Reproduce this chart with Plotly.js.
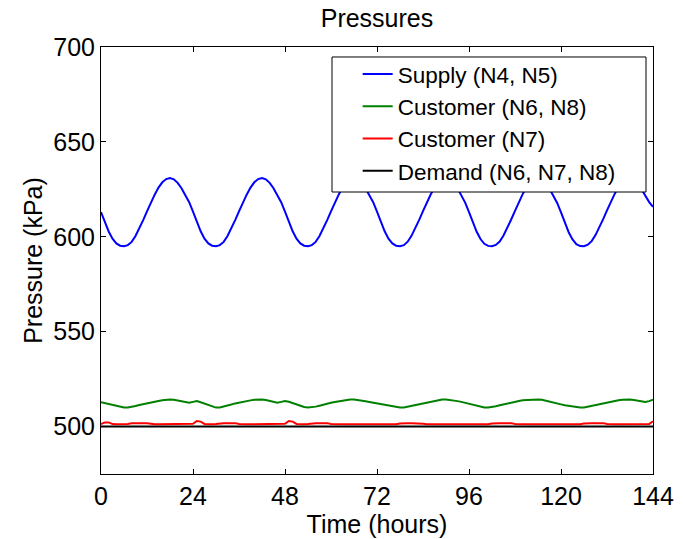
<!DOCTYPE html>
<html>
<head>
<meta charset="utf-8">
<script src="https://cdn.plot.ly/plotly-3.0.1.min.js"></script>
<style>html,body{margin:0;padding:0;background:#fff;}#chart{width:683px;height:539px;}</style>
</head>
<body>
<div id="chart"></div>
<script>
const hours = [
  0,1,2,3,4,5,6,7,8,9,10,11,12,13,14,15,16,17,18,19,20,21,22,23,
  24,25,26,27,28,29,30,31,32,33,34,35,36,37,38,39,40,41,42,43,44,45,46,47,
  48,49,50,51,52,53,54,55,56,57,58,59,60,61,62,63,64,65,66,67,68,69,70,71,
  72,73,74,75,76,77,78,79,80,81,82,83,84,85,86,87,88,89,90,91,92,93,94,95,
  96,97,98,99,100,101,102,103,104,105,106,107,108,109,110,111,112,113,114,115,116,117,118,119,
  120,121,122,123,124,125,126,127,128,129,130,131,132,133,134,135,136,137,138,139,140,141,142,143,
  144
];

const supply = [
  613.0,607.8,602.8,599.0,596.5,595.3,595.0,595.6,597.3,600.4,604.4,608.8,613.4,617.9,622.2,625.9,628.7,630.4,631.0,630.3,628.4,625.6,622.1,618.2,
  613.3,607.9,602.9,599.0,596.5,595.3,595.0,595.6,597.3,600.4,604.4,608.8,613.4,617.9,622.2,625.9,628.7,630.4,631.0,630.3,628.4,625.6,622.1,618.2,
  613.3,607.9,602.9,599.0,596.5,595.3,595.0,595.6,597.3,600.4,604.4,608.8,613.4,617.9,622.2,625.9,628.7,630.4,631.0,630.3,628.4,625.6,622.1,618.2,
  613.3,607.9,602.9,599.0,596.5,595.3,595.0,595.6,597.4,600.5,604.5,608.9,613.5,618.0,622.3,626.0,628.8,630.5,631.0,630.2,628.3,625.5,622.0,618.0,
  613.0,607.6,602.6,598.8,596.3,595.2,595.0,595.7,597.5,600.7,604.7,609.1,613.7,618.2,622.5,626.1,628.9,630.6,631.0,630.2,628.2,625.3,621.8,617.8,
  612.8,607.4,602.4,598.6,596.1,595.1,595.0,595.8,597.7,600.9,604.9,609.3,613.9,618.4,622.6,626.2,629.0,630.6,631.0,630.0,627.9,625.0,621.6,618.3,
  615.8
];

const customerN6N8 = [
  512.8,512.3,511.7,511.1,510.6,510.2,510.0,510.0,510.3,510.8,511.4,511.9,512.3,512.7,513.1,513.5,513.9,514.2,514.3,514.1,513.6,513.1,512.7,512.5,
  513.0,513.4,512.8,512.0,511.2,510.5,510.0,510.1,510.5,511.0,511.6,512.2,512.7,513.1,513.5,513.8,514.1,514.3,514.3,514.0,513.5,513.0,512.6,513.0,
  513.4,513.1,512.4,511.6,510.9,510.3,510.0,510.1,510.5,511.0,511.6,512.1,512.5,512.9,513.3,513.7,514.0,514.3,514.2,514.0,513.7,513.3,512.9,512.5,
  512.1,511.6,511.2,510.8,510.4,510.1,510.0,510.1,510.5,511.0,511.5,512.0,512.4,512.8,513.2,513.6,513.9,514.2,514.3,514.1,513.8,513.4,513.0,512.5,
  512.0,511.5,511.0,510.5,510.1,510.0,510.2,510.7,511.2,511.7,512.2,512.7,513.1,513.5,513.8,514.0,514.2,514.3,514.3,514.1,513.7,513.2,512.7,512.2,
  511.7,511.2,510.8,510.4,510.1,510.0,510.1,510.5,511.0,511.5,512.0,512.5,512.9,513.3,513.6,513.9,514.1,514.3,514.2,514.0,513.6,513.2,512.9,513.4,
  514.2
];

const customerN7 = [
  501.3,502.2,502.2,501.3,501.2,501.2,501.2,501.3,501.7,501.8,501.8,501.8,501.7,501.3,501.2,501.2,501.2,501.2,501.2,501.2,501.2,501.2,501.2,501.2,
  501.5,502.9,502.6,501.4,501.2,501.2,501.3,501.7,501.8,501.8,501.8,501.8,501.4,501.2,501.2,501.2,501.2,501.2,501.2,501.2,501.2,501.2,501.2,501.2,
  501.5,502.9,502.6,501.4,501.2,501.2,501.3,501.7,501.8,501.8,501.8,501.8,501.4,501.2,501.2,501.2,501.2,501.2,501.2,501.2,501.2,501.2,501.2,501.2,
  501.2,501.2,501.2,501.2,501.2,501.2,501.6,501.8,501.8,501.8,501.8,501.8,501.5,501.2,501.2,501.2,501.2,501.2,501.2,501.2,501.2,501.2,501.2,501.2,
  501.2,501.2,501.2,501.2,501.2,501.2,501.6,501.8,501.8,501.8,501.8,501.8,501.4,501.2,501.2,501.2,501.2,501.2,501.2,501.2,501.2,501.2,501.2,501.2,
  501.2,501.2,501.2,501.2,501.2,501.2,501.6,501.8,501.8,501.8,501.8,501.8,501.4,501.2,501.2,501.2,501.2,501.2,501.2,501.2,501.2,501.2,501.2,501.3,
  502.8
];

const demandHours = [0, 144];
const demand = [500, 500];

const xTicks = [0, 24, 48, 72, 96, 120, 144];
const yTicks = [500, 550, 600, 650, 700];

const FONT = 'Liberation Sans, Arial, Helvetica, sans-serif';
const FS = 25;

const traces = [
  {x: hours, y: supply, name: 'Supply (N4, N5)', mode: 'lines', line: {color: '#0000ff', width: 2}},
  {x: hours, y: customerN6N8, name: 'Customer (N6, N8)', mode: 'lines', line: {color: '#008000', width: 2}},
  {x: hours, y: customerN7, name: 'Customer (N7)', mode: 'lines', line: {color: '#ff0000', width: 2}},
  {x: demandHours, y: demand, name: 'Demand (N6, N7, N8)', mode: 'lines', line: {color: '#000000', width: 2}}
];

const layout = {
  width: 683, height: 539,
  margin: {l: 101, r: 30, t: 47, b: 65},
  paper_bgcolor: '#ffffff', plot_bgcolor: '#ffffff',
  font: {family: FONT, color: '#000', size: FS},
  title: {text: 'Pressures', font: {family: FONT, size: FS, color: '#000'}, x: 0.5, xref: 'paper', y: 0.966, yref: 'container', yanchor: 'middle'},
  xaxis: {
    range: [0, 144], tickvals: xTicks, ticktext: xTicks.map(String),
    ticks: 'inside', ticklen: 5, tickcolor: '#000', mirror: 'allticks',
    showline: true, linecolor: '#000', linewidth: 1, showgrid: false, zeroline: false,
    tickfont: {family: FONT, size: FS, color: '#000'},
    title: {text: 'Time (hours)', font: {family: FONT, size: FS, color: '#000'}, standoff: 2},
    automargin: false
  },
  yaxis: {
    range: [475, 700], tickvals: yTicks, ticktext: yTicks.map(String),
    ticks: 'inside', ticklen: 5, tickcolor: '#000', mirror: 'allticks',
    showline: true, linecolor: '#000', linewidth: 1, showgrid: false, zeroline: false,
    tickfont: {family: FONT, size: FS, color: '#000'},
    title: {text: 'Pressure (kPa)', font: {family: FONT, size: FS, color: '#000'}, standoff: 3},
    automargin: false
  },
  shapes: [{
    type: 'rect', xref: 'paper', yref: 'paper', layer: 'above',
    x0: 0.4185, x1: 0.9873, y0: 0.6604, y1: 0.9766,
    fillcolor: '#ffffff', line: {color: '#000000', width: 1}
  }],
  showlegend: true,
  legend: {
    x: 0.465, y: 0.986, xanchor: 'left', yanchor: 'top',
    bgcolor: 'rgba(0,0,0,0)', borderwidth: 0,
    font: {family: FONT, size: 22.5, color: '#000'}
  }
};

Plotly.newPlot('chart', traces, layout, {displayModeBar: false, staticPlot: true});
</script>
</body>
</html>
